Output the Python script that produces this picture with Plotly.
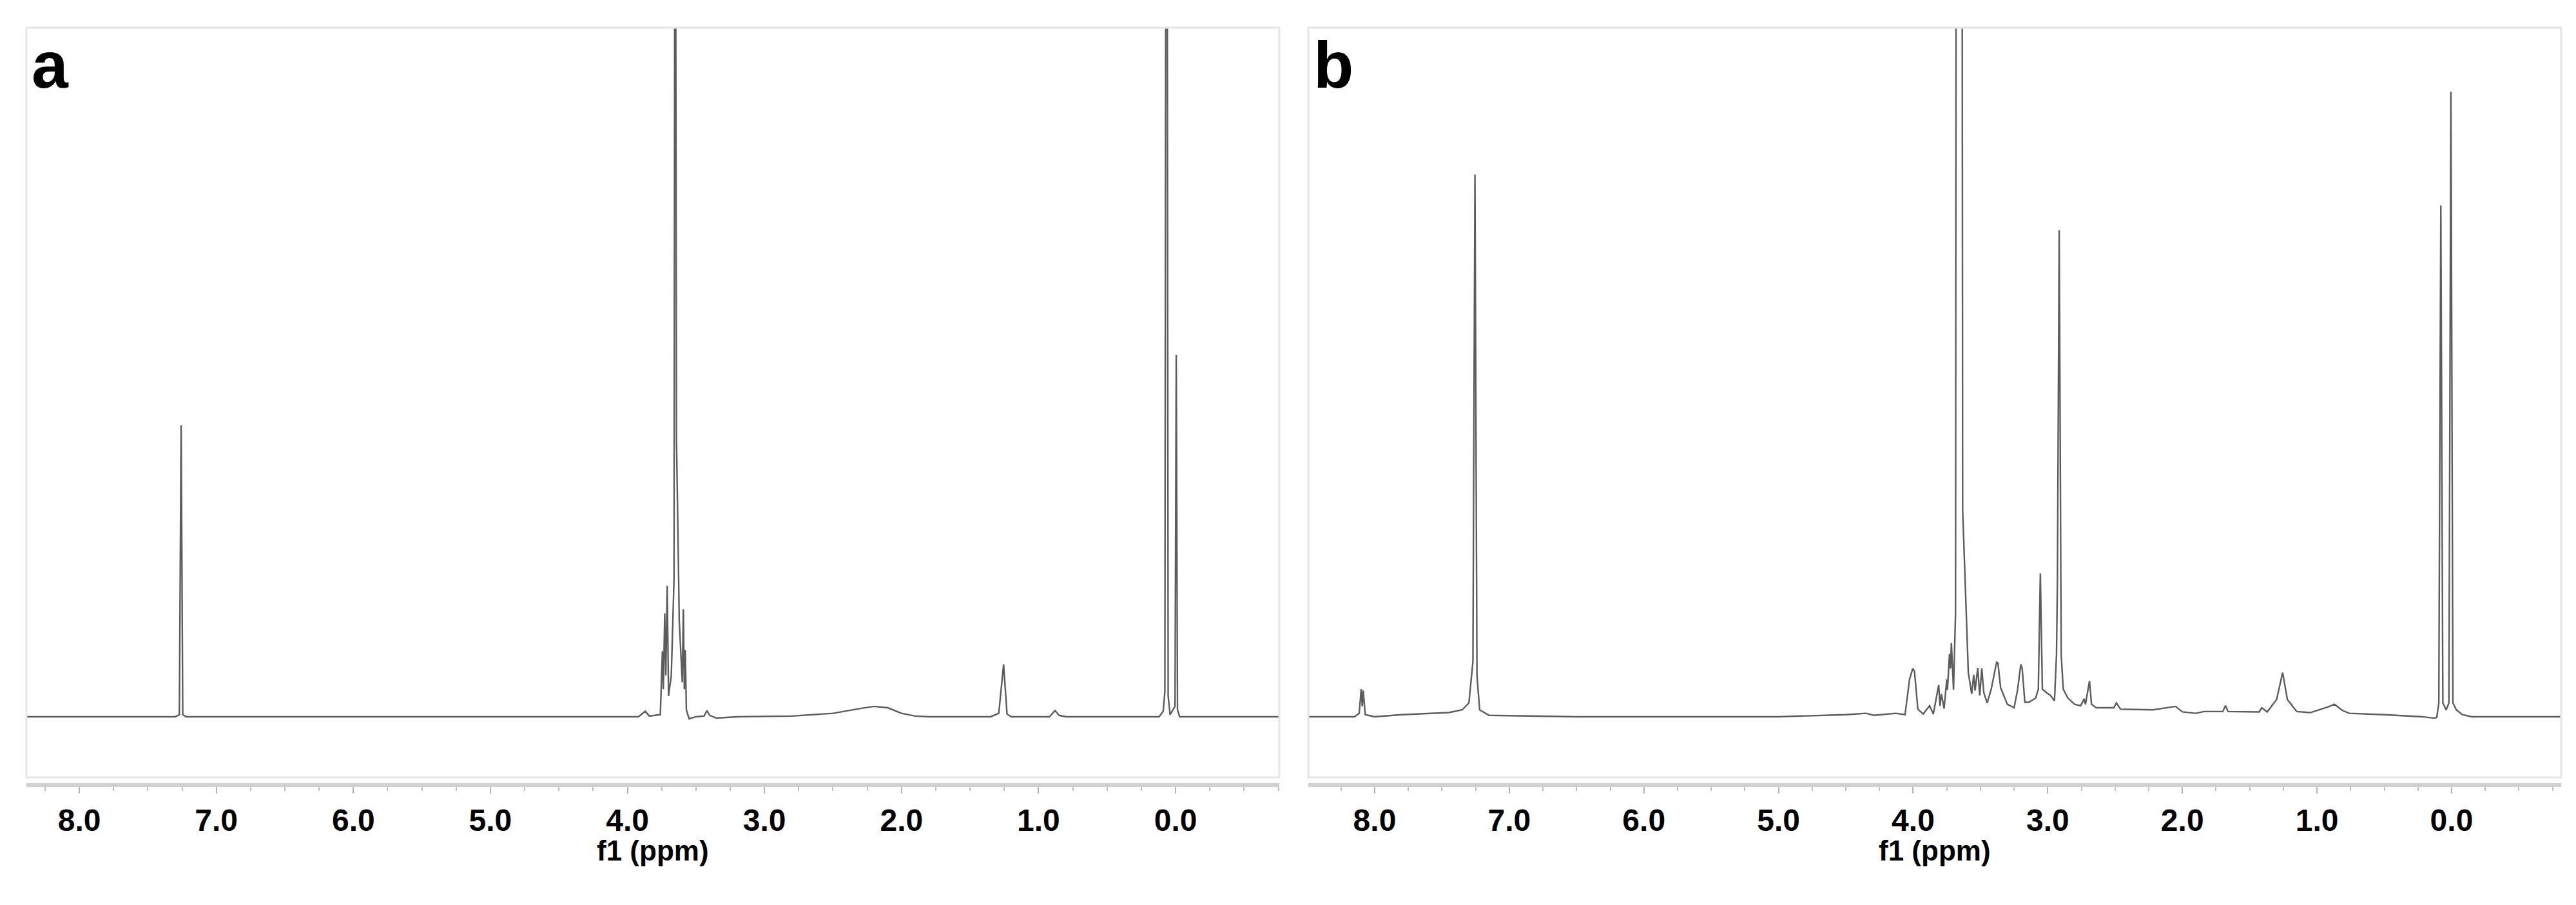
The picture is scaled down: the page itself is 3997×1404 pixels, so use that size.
import plotly.graph_objects as go

W, H = 3997, 1404

# panel a: chemical shift (ppm) and intensity (baseline = 0)
a_ppm = [8.386, 7.30, 7.27, 7.257, 7.245, 7.22, 3.92, 3.87, 3.84, 3.76, 3.745, 3.738,
         3.728, 3.72, 3.71, 3.70, 3.68, 3.66, 3.652, 3.642, 3.632, 3.622, 3.60, 3.592,
         3.585, 3.578, 3.57, 3.55, 3.50, 3.44, 3.42, 3.40, 3.35, 3.20, 2.80, 2.50,
         2.30, 2.20, 2.10, 2.00, 1.90, 1.80, 1.35, 1.29, 1.255, 1.23, 1.20, 0.92,
         0.88, 0.85, 0.80, 0.12, 0.09, 0.078, 0.066, 0.054, 0.04, 0.02, 0.004, -0.005,
         -0.014, -0.03, -0.757]
a_int = [0.0, 0.0, 0.3, 42.3, 0.3, 0.0, 0.0, 0.8, 0.1, 0.3, 9.5, 4.0,
         15.0, 6.0, 19.0, 3.0, 6.0, 20.0, 160.0, 40.0, 27.5, 14.0, 5.0, 15.6,
         4.0, 9.7, 1.0, -0.3, 0.0, 0.1, 0.9, 0.2, -0.2, 0.0, 0.1, 0.5,
         1.2, 1.5, 1.3, 0.5, 0.1, 0.0, 0.0, 0.5, 7.6, 0.4, 0.0, 0.0,
         0.9, 0.2, 0.0, 0.0, 0.8, 3.7, 200.0, 3.0, 0.3, 1.0, 1.5, 52.5,
         1.0, 0.0, 0.0]

# panel b
b_ppm = [8.493, 8.15, 8.115, 8.10, 8.092, 8.085, 8.07, 8.00, 7.80, 7.60, 7.45, 7.35,
         7.30, 7.27, 7.255, 7.24, 7.22, 7.15, 6.50, 5.00, 4.50, 4.35, 4.29, 4.13,
         4.06, 4.027, 4.003, 3.99, 3.965, 3.925, 3.878, 3.85, 3.81, 3.80, 3.79, 3.77,
         3.75, 3.745, 3.73, 3.722, 3.716, 3.70, 3.685, 3.668, 3.648, 3.632, 3.61, 3.60,
         3.59, 3.565, 3.55, 3.54, 3.52, 3.505, 3.49, 3.475, 3.45, 3.42, 3.405, 3.38,
         3.37, 3.35, 3.30, 3.25, 3.225, 3.20, 3.19, 3.17, 3.14, 3.09, 3.07, 3.055,
         3.04, 3.01, 2.98, 2.95, 2.935, 2.928, 2.915, 2.90, 2.885, 2.85, 2.80, 2.755,
         2.73, 2.72, 2.69, 2.675, 2.64, 2.51, 2.49, 2.46, 2.22, 2.05, 2.00, 1.90,
         1.84, 1.70, 1.68, 1.66, 1.43, 1.41, 1.37, 1.30, 1.255, 1.22, 1.15, 1.05,
         0.92, 0.87, 0.81, 0.76, 0.50, 0.22, 0.13, 0.11, 0.095, 0.08, 0.065, 0.04,
         0.02, 0.005, -0.01, -0.035, -0.08, -0.15, -0.814]
b_int = [0.0, 0.0, 0.5, 4.0, 1.5, 3.8, 0.3, 0.0, 0.3, 0.5, 0.6, 1.0,
         2.0, 8.0, 78.7, 6.0, 1.0, 0.2, 0.0, 0.0, 0.3, 0.5, 0.2, 0.5,
         0.3, 5.4, 7.0, 6.6, 1.1, 0.4, 1.6, 0.4, 4.6, 1.6, 3.3, 1.2,
         5.4, 3.9, 9.1, 7.0, 10.7, 3.9, 15.0, 400.0, 400.0, 30.0, 17.7, 11.7,
         6.4, 3.3, 6.1, 3.8, 7.1, 3.1, 7.0, 3.5, 2.0, 4.0, 5.6, 7.9,
         7.8, 4.2, 1.8, 1.3, 3.8, 7.6, 7.0, 2.1, 2.1, 2.7, 4.0, 20.8,
         4.0, 3.5, 3.1, 2.3, 9.0, 20.0, 70.6, 9.0, 4.0, 2.7, 1.8, 1.6,
         2.6, 1.8, 5.2, 1.8, 1.3, 1.3, 2.0, 1.1, 1.0, 1.5, 0.7, 0.5,
         0.75, 0.75, 1.6, 0.75, 0.7, 1.3, 0.7, 2.5, 6.4, 2.5, 0.75, 0.6,
         1.4, 1.8, 0.9, 0.5, 0.3, 0.0, -0.2, -0.1, 2.0, 74.2, 2.0, 1.0,
         2.0, 90.7, 2.0, 1.0, 0.3, 0.0, 0.0]

panels = [
    dict(label="a", ppm=a_ppm, inten=a_int, x=(33, 1977), xrange=[8.386, -0.757]),
    dict(label="b", ppm=b_ppm, inten=b_int, x=(2022, 3966), xrange=[8.493, -0.814]),
]

box_top, box_bot, band_y = 35, 1198, 1210
y_range = [-8.8, 100]

fig = go.Figure()
layout = dict(
    width=W, height=H,
    margin=dict(l=0, r=0, t=0, b=0),
    paper_bgcolor="white", plot_bgcolor="white",
    showlegend=False,
    font=dict(family="Liberation Sans, Arial", color="black"),
)
shapes, annotations = [], []

for i, p in enumerate(panels, start=1):
    sfx = "" if i == 1 else str(i)
    fig.add_trace(go.Scatter(
        x=p["ppm"], y=p["inten"], mode="lines",
        line=dict(color="#5c5c5c", width=2.4),
        xaxis=f"x{sfx}", yaxis=f"y{sfx}",
        hoverinfo="skip",
    ))
    x0, x1 = p["x"][0] / W, p["x"][1] / W
    layout[f"xaxis{sfx}"] = dict(
        domain=[x0, x1], range=p["xrange"],
        anchor="free", position=(H - band_y) / H,
        showline=True, linecolor="#d0d0d0", linewidth=6,
        ticks="outside", ticklen=10, tickwidth=2, tickcolor="#b4b4b4",
        tickmode="linear", tick0=0, dtick=1, tickformat=".1f",
        tickfont=dict(size=48, color="black", weight="bold"),
        minor=dict(ticks="outside", dtick=0.25, ticklen=6, tickwidth=2, tickcolor="#c0c0c0"),
        showgrid=False, zeroline=False, fixedrange=True,
    )
    layout[f"yaxis{sfx}"] = dict(
        domain=[(H - box_bot) / H, (H - box_top) / H], range=y_range,
        anchor=f"x{sfx}", visible=False, fixedrange=True,
    )
    shapes.append(dict(
        type="rect", xref="paper", yref="paper",
        x0=x0, x1=x1, y0=(H - box_bot) / H, y1=(H - box_top) / H,
        line=dict(color="#e6e6e6", width=3), layer="above",
    ))
    annotations.append(dict(
        text=f"<b>{p['label']}</b>", xref="paper", yref="paper",
        x=(p["x"][0] + 6) / W, y=1 - 34 / H, xanchor="left", yanchor="top",
        showarrow=False, font=dict(size=102, color="black"),
    ))
    annotations.append(dict(
        text="<b>f1 (ppm)</b>", xref="paper", yref="paper",
        x=(x0 + x1) / 2, y=1 - 1311 / H, xanchor="center", yanchor="middle",
        showarrow=False, font=dict(size=44, color="black"),
    ))

layout["shapes"] = shapes
layout["annotations"] = annotations
fig.update_layout(**layout)

fig.write_html("out.html")
